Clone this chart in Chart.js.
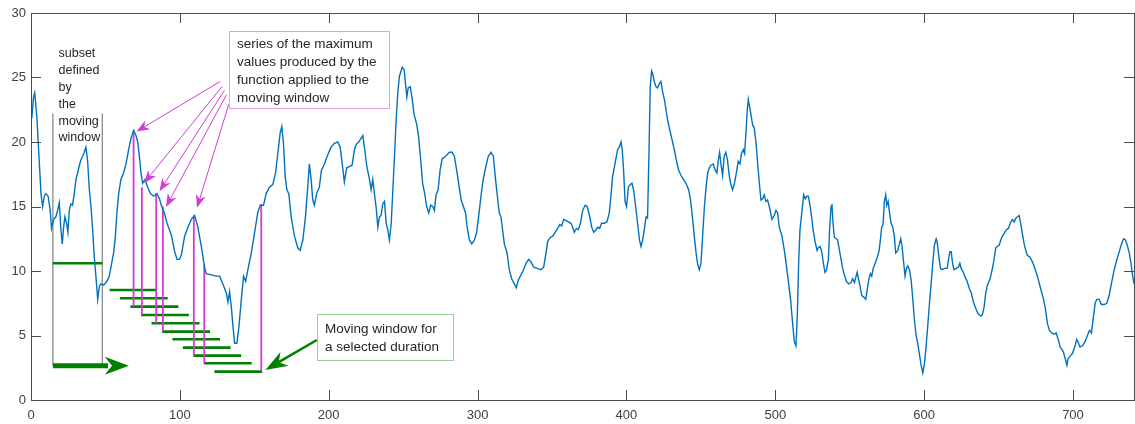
<!DOCTYPE html>
<html>
<head>
<meta charset="utf-8">
<script src="https://cdn.jsdelivr.net/npm/chart.js@4"></script>
<style>
  html, body { margin: 0; padding: 0; background: #fff; }
  #wrap { position: relative; width: 1135px; height: 424px; }
</style>
</head>
<body>
<div id="wrap"><canvas id="c"></canvas></div>
<script>
// signal
const xs = [
  0.5,1.7,2.5,3.9,5.5,6.7,7.8,8.9,10,11.5,12.9,13.8,15.2,16.7,17.9,19,20.1,21,21.9,22.8,23.9,24.8,25.7,26.8,27.9,29.1,30.2,31.3,32.5,33.5,34.7,35.8,36.9,38,39.2,40.3,41.4,42.5,43.6,44.8,45.9,47,48.8,51,52.6,54.2,55.5,56.7,57.7,58.9,60.4,62.2,63.8,65.6,67.2,69,70.5,71.7,72.8,73.9,75,76.6,78.4,80.2,82.4,84.6,86.3,87.8,89.6,91.4,93,94.5,96.3,98.1,
  99.8,101.1,103.2,105.4,107.7,109.9,112.1,114.4,116.6,117.7,121.1,124.4,126.7,128.9,131.2,132.3,133.4,134.6,135.7,136.8,138.3,139.7,141.3,142.8,144.2,145.7,148,150.1,152.3,154,156.2,158,160.2,162.4,164.3,165.8,167.4,168.5,169.6,170.8,171.9,173.2,174.8,177,179.2,180.8,182.6,184.4,185.9,187,188.2,189.3,190.4,191.9,193.7,195.1,197.1,199.3,201.6,203.8,206.1,
  207.7,208.8,210.5,212.1,213.9,215.7,217.3,218.4,220.2,221.8,222.9,224,225.6,227.4,228.5,229.6,230.7,231.9,233,234.1,235.2,236.3,237.5,238.6,239.7,240.8,242,243.1,244.2,245.3,246.4,247.5,249.4,250.7,251.6,252.5,253.4,254.8,256.1,257.4,259.1,260.4,261.8,263.1,264.5,265.8,267.2,268.5,269.9,271,272.1,273.5,274.8,276.2,277.7,279.3,281.1,282.9,284.4,286,287.3,289,290.5,291.9,293,294.5,296.1,297.9,299.4,300.7,302.3,303.8,305.6,307.2,309,310.6,311.9,313.5,314.6,
  315.7,316.8,318,319.8,321.3,322.9,324.7,326,327.4,329.2,330.9,332.6,334.3,335.9,337.7,340,342.6,344.4,346,347.1,348.9,350.5,352.1,353.8,355.2,356.5,357.9,359.5,361,362.8,364.2,365,366.4,367.7,369.1,370.6,372.3,373.6,375.2,376.7,378,379.6,380.7,382,383.3,385.1,386.9,388.5,389.6,390.7,392.3,394.1,395.2,396.4,397.2,398.1,399.1,400.1,401.3,402.6,403.7,404.8,406.2,407.5,408.8,409.8,410.9,412,413.2,414.2,415.2,416,416.9,
  417.6,418.7,419.8,420.9,422.1,423.2,424.3,425.5,426.6,427.7,428.8,430.6,432.2,433.7,435.1,436.7,438.3,440,441.8,443.1,444.5,445.6,446.8,447.9,449,450.1,451.2,452.4,453.5,454.6,455.7,456.8,458.3,459.7,460.8,461.7,462.6,463.5,464.6,465.7,466.8,467.9,469.1,470.2,471.3,472.6,474,475.1,476.3,477.3,478.5,479.4,480.3,481.2,481.9,482.5,483.7,484.8,485.9,487.1,488.2,489.3,490.4,491.5,492.6,493.7,494.8,496,497.8,499.3,500.5,501.6,502.7,504.5,506.1,507.6,509,510.3,511.7,512.8,513.9,514.8,515.7,516.6,518,519.1,520.2,521.1,522.2,
  523.5,524.4,525.4,526.7,528.1,528.9,530.1,531.2,532.3,533.4,534.5,535.7,536.5,537.5,538.1,538.8,539.7,541,541.9,543.1,544.2,545.3,546.4,547.8,549.3,550.9,552,553.2,554.3,555,555.9,557,558.1,559.4,560.8,561.7,562.8,563.9,564.8,565.8,567.1,568.4,569.8,570.6,571.5,572.4,573.3,574.2,574.9,575.8,576.7,577.8,578.9,580,580.9,582.3,583.4,584.3,585.2,586.3,587.2,588.1,589,590.1,591.3,592.4,593.5,594.6,595.7,596.9,598,599.1,600.2,601.3,602.4,603.6,604.7,605.8,606.9,608.1,608.7,609.6,611,612.1,613.6,615.5,616.4,617.3,618.2,619.1,620,621.5,623.1,624,624.9,626.3,627.6,
  628.6,630.2,631.7,633.1,634.7,636.2,638,639.1,640.3,641.4,642.5,644.3,645.9,647,648.1,649.2,650.4,651.5,652.6,653.7,655.3,656.6,658.2,659.3,660.5,661.6,662.7,663.8,664.9,666,667.2,668.3,669.4,671,672.8,674.4,676.1,677.9,679.8,681.3,682.9,684.2,685.6,687.4,688.7,690.1,691.4,692.7,693.6,694.8,695.9,696.7,698.1,699.6,701.2,702.5,703.4,704.7,706.4,708,709.7,711.1,712.4,713.8,714.9,716,717.6,719.1,721,722.7,724.3,725.8,727.7,729.5,731.1,732.6,734,735.3,736.7,737.8,739,740.1,741
];
const ys = [
  21.8,23.5,23.8,22.0,18.6,16.0,15.0,15.8,16.0,15.8,14.7,13.3,14.0,14.2,14.7,15.3,13.2,12.1,13.4,14.2,13.7,13.0,14.7,15.2,15.1,16.0,17.1,17.6,18.2,18.6,18.9,19.2,19.6,18.6,16.3,15.0,13.2,11.1,9.6,7.8,8.8,9.0,8.9,9.2,9.6,10.6,11.4,12.7,14.5,16.0,17.1,17.6,18.3,19.4,20.3,20.9,20.5,20.0,18.9,17.6,16.8,17.1,16.5,16.0,15.8,16.0,15.6,15.0,14.5,13.7,13.2,12.7,11.6,10.9,
  10.9,11.3,12.7,13.4,14.0,14.3,13.4,11.9,10.3,9.8,9.7,9.6,9.6,9.0,8.3,7.6,8.4,7.2,5.7,4.4,4.4,5.7,7.8,9.6,9.2,10.1,11.4,12.9,14.5,15.1,15.1,16.0,16.5,16.7,17.6,19.1,20.7,21.2,19.9,17.3,16.3,16.0,14.2,12.7,11.8,11.6,12.4,14.2,16.5,18.3,17.1,15.5,15.1,16.0,16.5,17.8,18.3,19.0,19.6,19.9,20.0,
  19.6,18.6,16.9,18.0,18.1,18.2,19.4,19.8,20.0,20.3,20.5,19.6,18.1,17.1,16.3,17.1,16.0,14.9,13.4,14.2,14.3,15.2,15.4,13.7,13.2,12.4,13.7,16.3,18.9,21.7,23.8,25.1,25.8,25.6,24.5,23.5,24.2,24.3,23.3,22.1,21.4,20.4,18.6,16.8,16.0,15.0,14.5,15.1,15.0,14.7,15.9,16.3,17.8,18.7,18.8,19.0,19.2,19.2,18.9,17.8,16.8,15.5,15.0,14.5,13.4,12.4,12.1,12.4,13.0,14.2,15.8,17.1,18.1,18.9,19.2,18.9,17.3,15.6,14.5,
  14.2,13.2,12.1,11.4,10.1,9.4,9.0,8.7,9.3,9.7,10.1,10.6,10.9,10.7,10.3,10.2,10.1,10.3,11.4,12.3,12.6,12.7,13.0,13.3,13.6,13.5,14.0,13.9,13.8,13.7,13.3,13.0,13.3,13.2,13.7,14.7,15.1,15.0,14.3,13.4,13.0,13.2,13.4,13.3,13.7,13.7,13.8,14.5,15.8,17.3,18.3,19.4,19.6,20.0,19.4,17.8,15.4,15.0,16.5,16.7,16.8,16.3,15.0,13.7,12.4,11.9,12.4,13.2,14.2,14.1,19.4,24.3,25.5,
  25.3,24.7,24.3,24.2,24.5,24.7,23.9,23.3,22.5,21.7,21.1,20.2,19.4,18.5,17.8,17.4,17.1,16.8,16.3,15.5,14.0,12.7,11.4,10.5,10.1,10.6,12.7,15.0,16.5,17.6,18.0,18.2,18.3,17.8,17.6,18.6,19.2,18.3,17.4,18.9,19.2,18.6,17.4,16.7,16.3,16.8,17.7,18.5,18.3,19.1,19.4,19.1,20.7,22.5,23.3,22.9,22.1,21.3,21.1,19.9,18.3,16.8,15.5,15.6,15.9,15.4,15.5,15.0,14.0,14.3,14.7,14.5,13.4,12.7,11.6,10.3,9.0,7.8,5.9,4.5,4.2,6.5,10.6,13.2,14.7,15.9,15.6,15.8,15.8,
  15.0,14.2,13.2,12.3,11.6,11.8,11.9,11.5,10.6,9.9,10.1,10.9,13.2,15.0,15.2,13.7,12.6,12.5,12.4,11.6,10.9,10.2,9.7,9.2,9.0,9.1,9.4,9.1,9.6,9.9,9.4,8.8,8.1,8.0,7.8,8.5,9.3,9.8,9.6,10.2,10.6,11.0,11.6,12.4,13.4,13.6,15.4,15.9,15.1,15.4,14.6,13.7,13.4,12.7,11.4,11.6,12.1,12.5,11.9,10.6,9.6,10.2,10.4,10.1,9.3,7.8,6.2,5.0,4.4,3.5,2.7,2.1,2.8,4.1,5.7,7.5,9.0,10.6,12.0,12.5,12.3,11.4,10.2,10.1,10.2,10.2,10.9,11.5,11.5,10.6,10.1,10.2,10.3,10.6,10.2,9.9,9.5,
  9.3,8.7,8.3,7.6,7.1,6.7,6.5,6.6,7.2,8.3,8.9,9.4,10.2,10.9,11.8,11.9,12.0,12.4,12.7,12.9,13.2,13.3,13.8,14.0,13.8,14.1,14.2,14.3,13.7,12.9,12.1,11.6,11.2,11.1,10.7,10.2,9.6,8.8,8.0,7.2,5.9,5.4,5.2,5.1,5.2,4.7,4.1,3.9,3.7,3.2,2.7,3.2,3.4,3.6,4.1,4.7,4.5,4.1,4.2,4.5,5.0,5.4,5.2,6.5,7.5,7.8,7.8,7.4,7.4,7.5,8.1,9.0,10.1,10.9,11.5,12.1,12.5,12.4,11.9,11.4,10.6,9.6,9.0
];

// axis ranges
const X_MAX = 741;
const Y_MAX = 30;

// moving window (subset) drawn on the left
const windowX = [14.7, 47.9];
const windowTop = 22.2;
const windowBottom = 2.66;
const windowMaxY = 10.6;
const windowArrowTip = 65.7;

// successive window positions (green steps)
const stepStart = [52.8, 59.7, 66.8, 74.0, 81.0, 88.0, 95.0, 102.0, 109.1, 116.1, 123.2];
const stepEnd   = [84.6, 91.8, 99.0, 106.1, 113.2, 120.3, 127.0, 134.1, 141.2, 148.3, 155.3];
const stepY     = [8.53, 7.89, 7.24, 6.59, 5.95, 5.30, 4.71, 4.06, 3.44, 2.85, 2.20];

// maxima found in each window (magenta drops)
const maxX      = [68.9, 74.5, 84.1, 88.6, 109.4, 116.4, 154.7];
const maxTop    = [20.8, 16.5, 16.0, 15.0, 14.3, 10.5, 15.2];
const maxBottom = [7.24, 6.59, 5.95, 5.30, 3.44, 2.85, 2.20];

// callout arrows [x, y] in data units
const pinkFrom = [[127.1, 24.69], [128.4, 24.31], [130.0, 24.01], [131.3, 23.66], [132.8, 22.9]];
const pinkTo   = [[70.9, 20.81], [75.9, 16.81], [86.3, 16.18], [90.7, 14.97], [111.5, 14.9]];
const greenFrom = [192.0, 4.65];
const greenTo   = [157.5, 2.33];

const BLUE = '#0072BD';
const GREEN = '#008000';
const PINK = '#d23cd2';
const FONT = '"Liberation Sans", Arial, Helvetica, sans-serif';

function hSegments(a, b, yv) {
  const pts = [];
  a.forEach((s, i) => { pts.push({ x: s, y: yv[i] }, { x: b[i], y: yv[i] }, { x: b[i], y: null }); });
  return pts;
}
function vSegments(xv, top, bottom) {
  const pts = [];
  xv.forEach((x, i) => { pts.push({ x, y: top[i] }, { x, y: bottom[i] }, { x, y: null }); });
  return pts;
}
function lineSet(data, color, width) {
  return { data, borderColor: color, borderWidth: width, pointRadius: 0, fill: false, tension: 0, spanGaps: false };
}

function arrowHead(ctx, x1, y1, x2, y2, len, half, color, width) {
  const a = Math.atan2(y2 - y1, x2 - x1);
  const c = Math.cos(a), s = Math.sin(a);
  const bx = x2 - len * c, by = y2 - len * s;
  const nx = x2 - len * 0.7 * c, ny = y2 - len * 0.7 * s;
  if (width > 0) {
    ctx.strokeStyle = color; ctx.lineWidth = width;
    ctx.beginPath(); ctx.moveTo(x1, y1); ctx.lineTo(nx, ny); ctx.stroke();
  }
  ctx.fillStyle = color;
  ctx.beginPath();
  ctx.moveTo(x2, y2);
  ctx.lineTo(bx + half * s, by - half * c);
  ctx.lineTo(nx, ny);
  ctx.lineTo(bx - half * s, by + half * c);
  ctx.closePath();
  ctx.fill();
}

function textBox(ctx, l, t, r, b, border, lines, tx, ty0, dy, size) {
  ctx.strokeStyle = border; ctx.lineWidth = 1;
  ctx.strokeRect(l + 0.5, t + 0.5, r - l, b - t);
  ctx.fillStyle = '#262626';
  ctx.font = size + 'px ' + FONT;
  ctx.textBaseline = 'middle'; ctx.textAlign = 'left';
  lines.forEach((s, i) => ctx.fillText(s, tx, ty0 + i * dy));
}

const frame = {
  id: 'frame',
  afterDraw(chart) {
    const { ctx, chartArea: a, scales: { x, y } } = chart;
    ctx.save();
    // box and inward ticks on all four sides
    ctx.strokeStyle = '#4d4d4d'; ctx.lineWidth = 1;
    ctx.strokeRect(a.left + 0.5, a.top + 0.5, a.right - a.left, a.bottom - a.top);
    ctx.beginPath();
    x.ticks.forEach(t => {
      const px = Math.round(x.getPixelForValue(t.value)) + 0.5;
      ctx.moveTo(px, a.bottom); ctx.lineTo(px, a.bottom - 10);
      ctx.moveTo(px, a.top); ctx.lineTo(px, a.top + 10);
    });
    y.ticks.forEach(t => {
      const py = Math.round(y.getPixelForValue(t.value)) + 0.5;
      ctx.moveTo(a.left, py); ctx.lineTo(a.left + 10, py);
      ctx.moveTo(a.right, py); ctx.lineTo(a.right - 10, py);
    });
    ctx.stroke();

    // magenta callouts
    pinkFrom.forEach((f, i) => {
      arrowHead(ctx, x.getPixelForValue(f[0]), y.getPixelForValue(f[1]),
        x.getPixelForValue(pinkTo[i][0]), y.getPixelForValue(pinkTo[i][1]), 13, 5, PINK, 1);
    });
    // green callout
    arrowHead(ctx, x.getPixelForValue(greenFrom[0]), y.getPixelForValue(greenFrom[1]),
      x.getPixelForValue(greenTo[0]), y.getPixelForValue(greenTo[1]), 22, 8, GREEN, 2.5);
    // head of the thick window arrow
    const wy = y.getPixelForValue(windowBottom);
    arrowHead(ctx, x.getPixelForValue(windowX[0]), wy, x.getPixelForValue(windowArrowTip), wy, 24, 9, GREEN, 0);

    // label of the window subset
    ctx.fillStyle = '#262626';
    ctx.font = '12.5px ' + FONT;
    ctx.textBaseline = 'middle';
    ['subset', 'defined', 'by', 'the', 'moving', 'window'].forEach((s, i) => ctx.fillText(s, 58.5, 54 + i * 16.8));

    textBox(ctx, 229, 31, 389, 108, '#e49ee4',
      ['series of the maximum', 'values produced by the', 'function applied to the', 'moving window'], 237, 44.5, 18, 13.5);
    textBox(ctx, 317, 314, 453, 360, '#96d296',
      ['Moving window for', 'a selected duration'], 325, 329.5, 17.5, 13.5);
    ctx.restore();
  }
};

new Chart(document.getElementById('c'), {
  type: 'line',
  data: {
    datasets: [
      lineSet(xs.map((x, i) => ({ x, y: ys[i] })), BLUE, 1.4),
      lineSet(vSegments(maxX, maxTop, maxBottom), PINK, 1.8),
      lineSet(hSegments(stepStart, stepEnd, stepY), GREEN, 2.6),
      lineSet([{ x: windowX[0], y: windowMaxY }, { x: windowX[1], y: windowMaxY }], GREEN, 2.6),
      lineSet([{ x: windowX[0], y: windowBottom }, { x: windowArrowTip - 14, y: windowBottom }], GREEN, 5),
      lineSet(vSegments(windowX, [windowTop, windowTop], [windowBottom, windowBottom]), '#8c8c8c', 1.3)
    ]
  },
  options: {
    responsive: true,
    maintainAspectRatio: false,
    animation: false,
    events: [],
    layout: { padding: { top: 13, right: 1, left: 0, bottom: 0 } },
    plugins: { legend: { display: false }, tooltip: { enabled: false } },
    scales: {
      x: {
        type: 'linear', min: 0, max: X_MAX,
        grid: { display: false, drawTicks: false }, border: { display: false },
        ticks: { stepSize: 100, includeBounds: false, padding: 8, color: '#404040', font: { family: FONT, size: 13 }, maxRotation: 0 },
        afterFit(s) { s.height = 24; }
      },
      y: {
        min: 0, max: Y_MAX,
        grid: { display: false, drawTicks: false }, border: { display: false },
        ticks: { stepSize: 5, padding: 5, color: '#404040', font: { family: FONT, size: 13 } },
        afterFit(s) { s.width = 31; }
      }
    }
  },
  plugins: [frame]
});
</script>
</body>
</html>
